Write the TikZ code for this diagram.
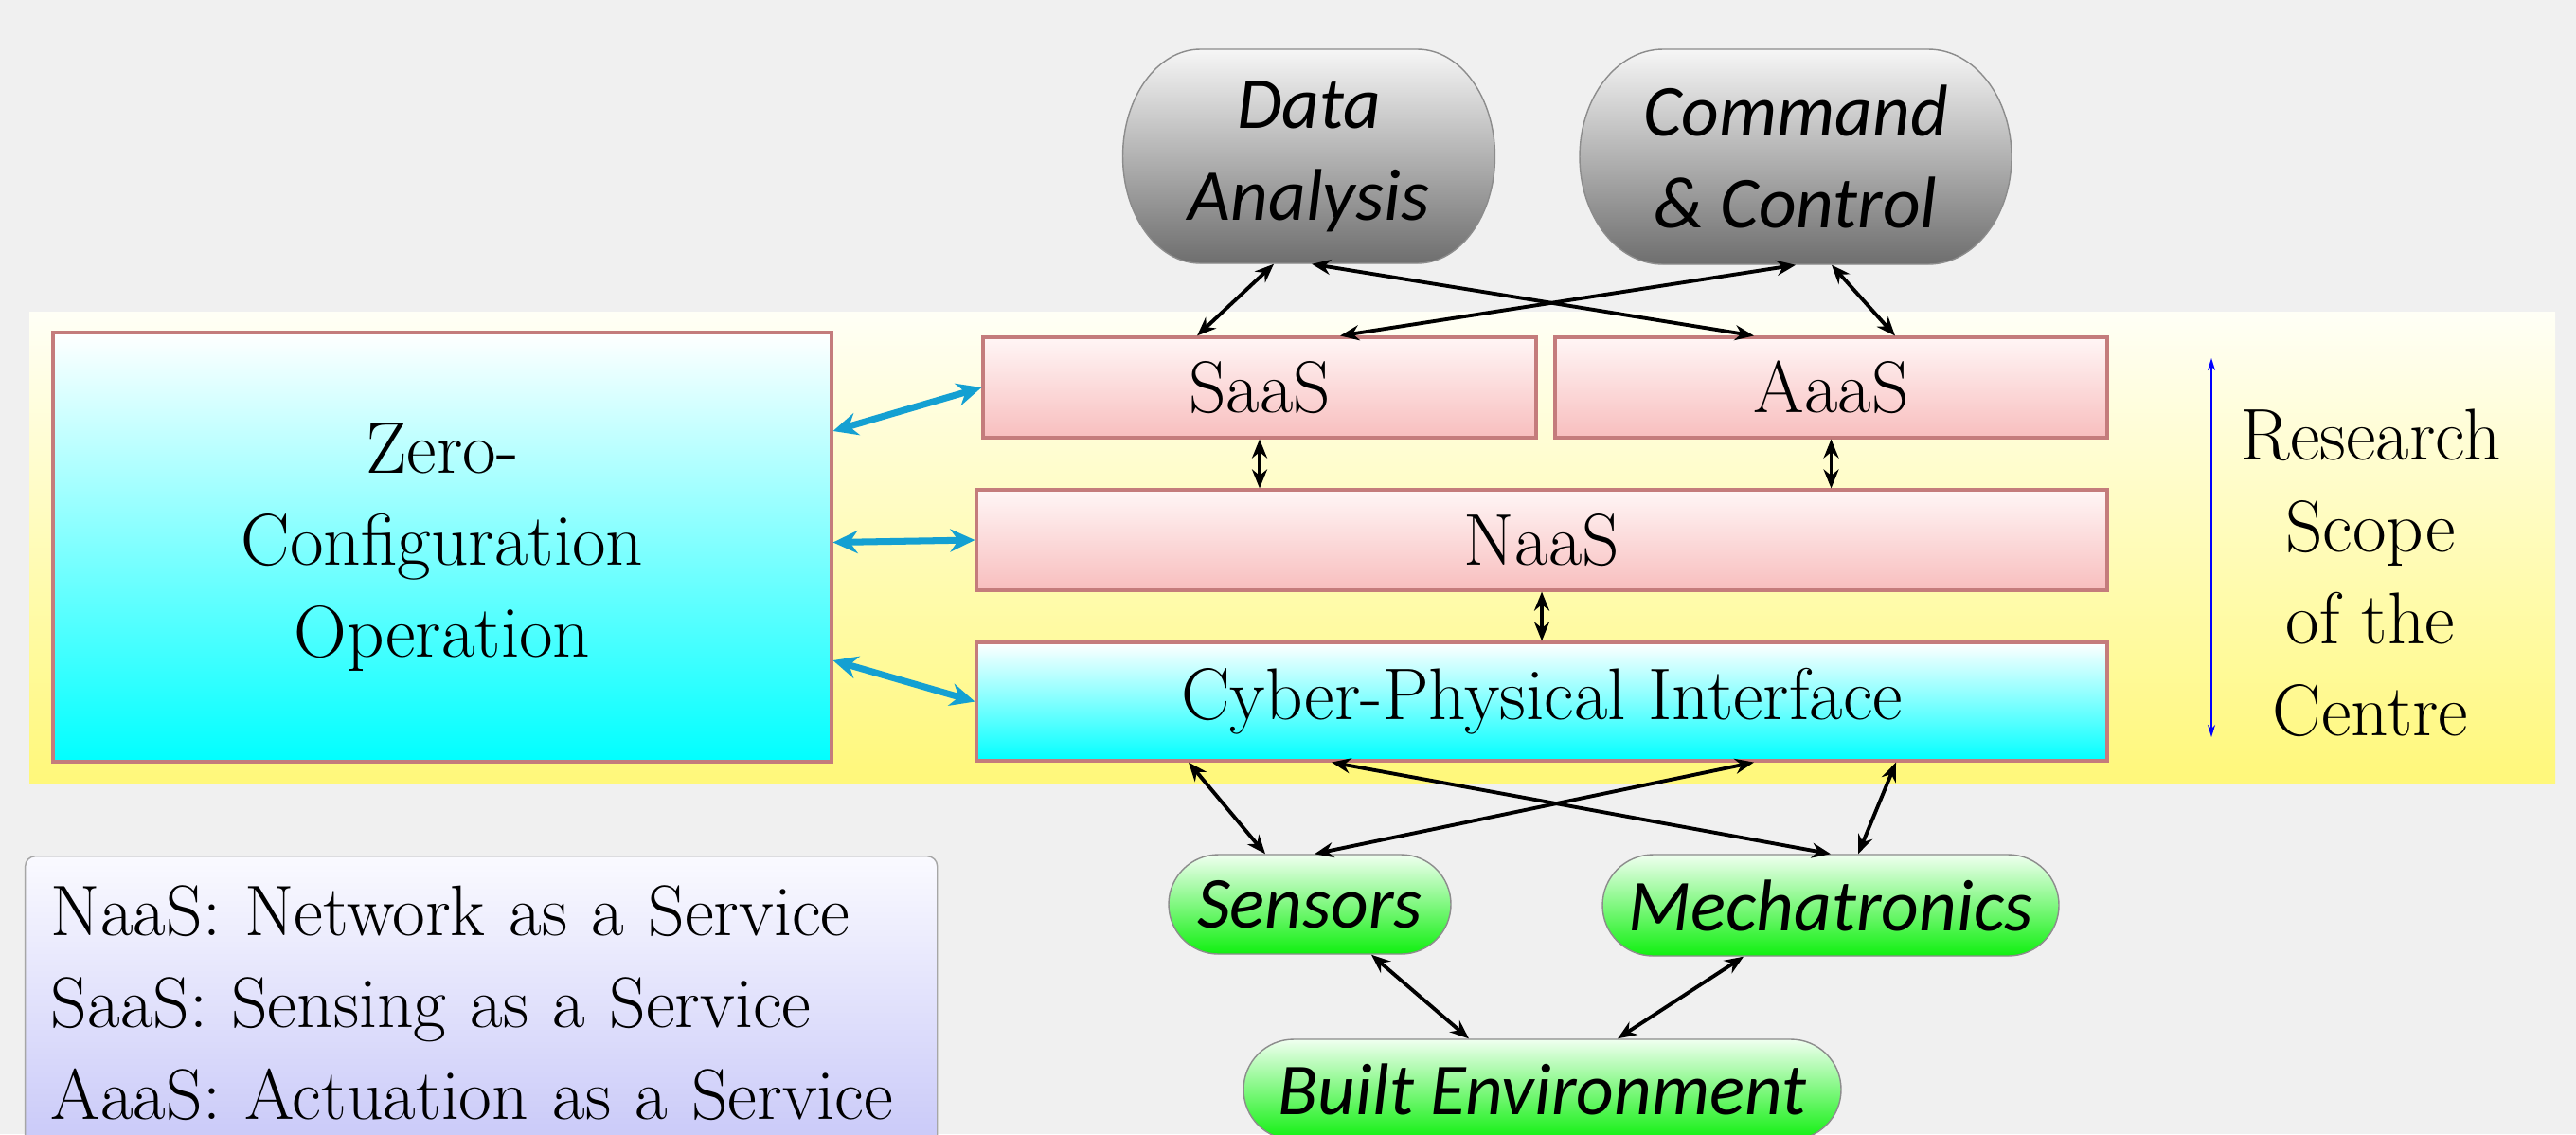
\documentclass[tikz,border=0pt]{standalone}
\usepackage{fontspec}
\newfontfamily\bubfont{Carlito}
\usetikzlibrary{shapes.misc,arrows.meta}
\definecolor{bgcol}{HTML}{F0F0F0}
\definecolor{bandtop}{HTML}{FFFFF6}
\definecolor{bandbot}{HTML}{FFF87A}
\definecolor{pinktop}{HTML}{FFF6F6}
\definecolor{pinkbot}{HTML}{F8BEBE}
\definecolor{boxline}{HTML}{C47C7C}
\definecolor{graytop}{HTML}{F6F6F6}
\definecolor{graybot}{HTML}{6E6E6E}
\definecolor{greentop}{HTML}{F0FFF0}
\definecolor{greenbot}{HTML}{10F010}
\definecolor{keytop}{HTML}{FAFAFF}
\definecolor{keybot}{HTML}{C8C8F8}
\definecolor{zblue}{RGB}{20,160,210}
\begin{document}
\begin{tikzpicture}[
  box/.style={draw=boxline,line width=0.9pt,rectangle,minimum height=1.06cm,inner sep=0pt,font=\fontsize{22}{27.6}\selectfont},
  pinkbox/.style={box,top color=pinktop,bottom color=pinkbot},
  cyanbox/.style={box,top color=white,bottom color=cyan},
  bubtext/.style={inner sep=0pt,align=center,font=\fontsize{22}{27.6}\selectfont\bubfont\itshape},
  graybub/.style={draw=gray!90,top color=graytop,bottom color=graybot},
  greenbubble/.style={bubtext,rounded rectangle,draw=gray!90,top color=greentop,bottom color=greenbot},
  legend/.style={draw=gray!70,rounded corners=3pt,top color=keytop,bottom color=keybot,inner xsep=2.7mm,inner ysep=3.1mm,align=left,font=\fontsize{21.5}{27.6}\selectfont},
  link/.style={<->,>={Stealth[length=2mm,width=1.6mm]},line width=1.1pt},
  zlink/.style={<->,>={Stealth[length=2.6mm,width=2.4mm]},line width=2pt,zblue}]
\path[use as bounding box,fill=bgcol] (0,0) rectangle (27.2,-11.97);
\shade[top color=bandtop,bottom color=bandbot] (0.31,-3.29) rectangle (26.98,-8.27);
\shade[graybub] (12.675,-0.52) -- (14.965,-0.52) arc[start angle=90,end angle=-90,x radius=0.82,y radius=1.13] -- (12.675,-2.78) arc[start angle=270,end angle=90,x radius=0.82,y radius=1.13] -- cycle;
\shade[graybub] (17.56,-0.52) -- (20.36,-0.52) arc[start angle=90,end angle=-90,x radius=0.88,y radius=1.135] -- (17.56,-2.79) arc[start angle=270,end angle=90,x radius=0.88,y radius=1.135] -- cycle;

\node[cyanbox,minimum width=8.22cm,minimum height=4.53cm,align=center] (zero) at (4.67,-5.775) {Zero-\\Configuration\\Operation};
\node[pinkbox,minimum width=5.84cm] (saas) at (13.30,-4.09) {SaaS};
\node[pinkbox,minimum width=5.83cm] (aaas) at (19.335,-4.09) {AaaS};
\node[pinkbox,minimum width=11.94cm] (naas) at (16.28,-5.70) {NaaS};
\node[cyanbox,minimum width=11.94cm,minimum height=1.25cm] (cpi) at (16.28,-7.405) {Cyber-Physical Interface};

\node[bubtext,minimum width=3.93cm,minimum height=2.26cm] (da) at (13.82,-1.65) {Data\\Analysis};
\node[bubtext,minimum width=4.56cm,minimum height=2.27cm] (cc) at (18.96,-1.655) {Command\\\& Control};
\node[greenbubble,minimum width=2.98cm,minimum height=1.05cm] (sens) at (13.83,-9.545) {Sensors};
\node[greenbubble,minimum width=4.82cm,minimum height=1.07cm] (mech) at (19.33,-9.555) {Mechatronics};
\node[greenbubble,minimum width=6.31cm,minimum height=1.06cm] (built) at (16.285,-11.50) {Built Environment};

\node[legend,anchor=north west,text width=9.09cm] (key) at (0.26,-9.03) {NaaS: Network as a Service\\SaaS: Sensing as a Service\\AaaS: Actuation as a Service};
\node[align=center,font=\fontsize{22}{27.6}\selectfont] (scope) at (25.03,-6.05) {Research\\Scope\\of the\\Centre};
\coordinate (stop) at (23.35,-3.78);
\coordinate (sbot) at (23.35,-7.78);
\draw[blue,line width=0.5pt,<->,>={Stealth[length=1.3mm,width=0.8mm]}] (stop) -- (sbot);

\draw[link] ([xshift=-3.7mm]da.south) -- ([xshift=-6.6mm]saas.north);
\draw[link] ([xshift=0.3mm]da.south) -- ([xshift=-8.15mm]aaas.north);
\draw[link] (cc.south) -- ([xshift=8.5mm]saas.north);
\draw[link] ([xshift=3.8mm]cc.south) -- ([xshift=6.75mm]aaas.north);
\draw[link] (saas.south) -- (saas.south |- naas.north);
\draw[link] (aaas.south) -- (aaas.south |- naas.north);
\draw[link] (naas.south) -- (cpi.north);

\draw[zlink] ([yshift=12.25mm]zero.east) -- (saas.west);
\draw[zlink] ([yshift=0.5mm]zero.east) -- (naas.west);
\draw[zlink] ([yshift=-11.95mm]zero.east) -- (cpi.west);

\draw[link] ([xshift=-37.3mm]cpi.south) -- ([xshift=-4.7mm]sens.north);
\draw[link] ([xshift=-22.2mm]cpi.south) -- (mech.north);
\draw[link] ([xshift=22.4mm]cpi.south) -- ([xshift=0.5mm]sens.north);
\draw[link] ([xshift=37.4mm]cpi.south) -- ([xshift=2.9mm]mech.north);
\draw[link] ([xshift=6.5mm]sens.south) -- ([xshift=-7.75mm]built.north);
\draw[link] ([xshift=-9.2mm]mech.south) -- ([xshift=7.95mm]built.north);
\end{tikzpicture}
\end{document}
